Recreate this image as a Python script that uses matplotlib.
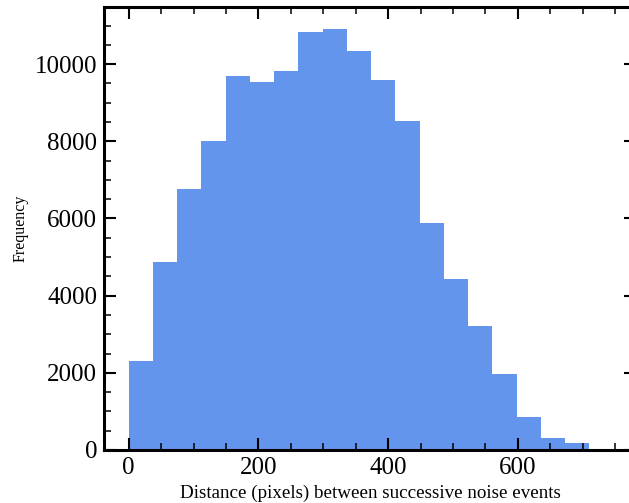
import numpy as np
import matplotlib
matplotlib.use("Agg")
import matplotlib.pyplot as plt
from matplotlib.ticker import MultipleLocator

plt.rcParams['font.family'] = ['Liberation Serif', 'DejaVu Serif']

# histogram counts, 19 bins from 0 to ~710 px
counts = [2310, 4870, 6760, 8010, 9690, 9525, 9825, 10840, 10900, 10330,
          9595, 8515, 5875, 4440, 3210, 1970, 845, 305, 170]
bin_lo = 0
bin_hi = 710
edges = np.linspace(bin_lo, bin_hi, len(counts) + 1)

fig = plt.figure(figsize=(6.29, 5.03), dpi=100)
ax = fig.add_axes([0.1653, 0.1054, 0.8458, 0.8807])

ax.bar(edges[:-1], counts, width=np.diff(edges), align='edge',
       color='cornflowerblue', linewidth=0)

ax.set_xlim(-38, 782)
ax.set_ylim(0, 11480)
ax.xaxis.set_major_locator(MultipleLocator(200))
ax.xaxis.set_minor_locator(MultipleLocator(50))
ax.yaxis.set_major_locator(MultipleLocator(2000))
ax.yaxis.set_minor_locator(MultipleLocator(500))

ax.tick_params(which='both', direction='in', top=True, right=True, labelsize=18)
ax.tick_params(which='major', length=8.6, width=1.5, pad=5)
ax.tick_params(which='minor', length=5, width=1.1)
for s in ax.spines.values():
    s.set_linewidth(2.2)

ax.set_xlabel('Distance (pixels) between successive noise events', fontsize=13.7, labelpad=4)
ax.set_ylabel('Frequency', fontsize=11.5, labelpad=4)

fig.savefig('out.png', dpi=100)
